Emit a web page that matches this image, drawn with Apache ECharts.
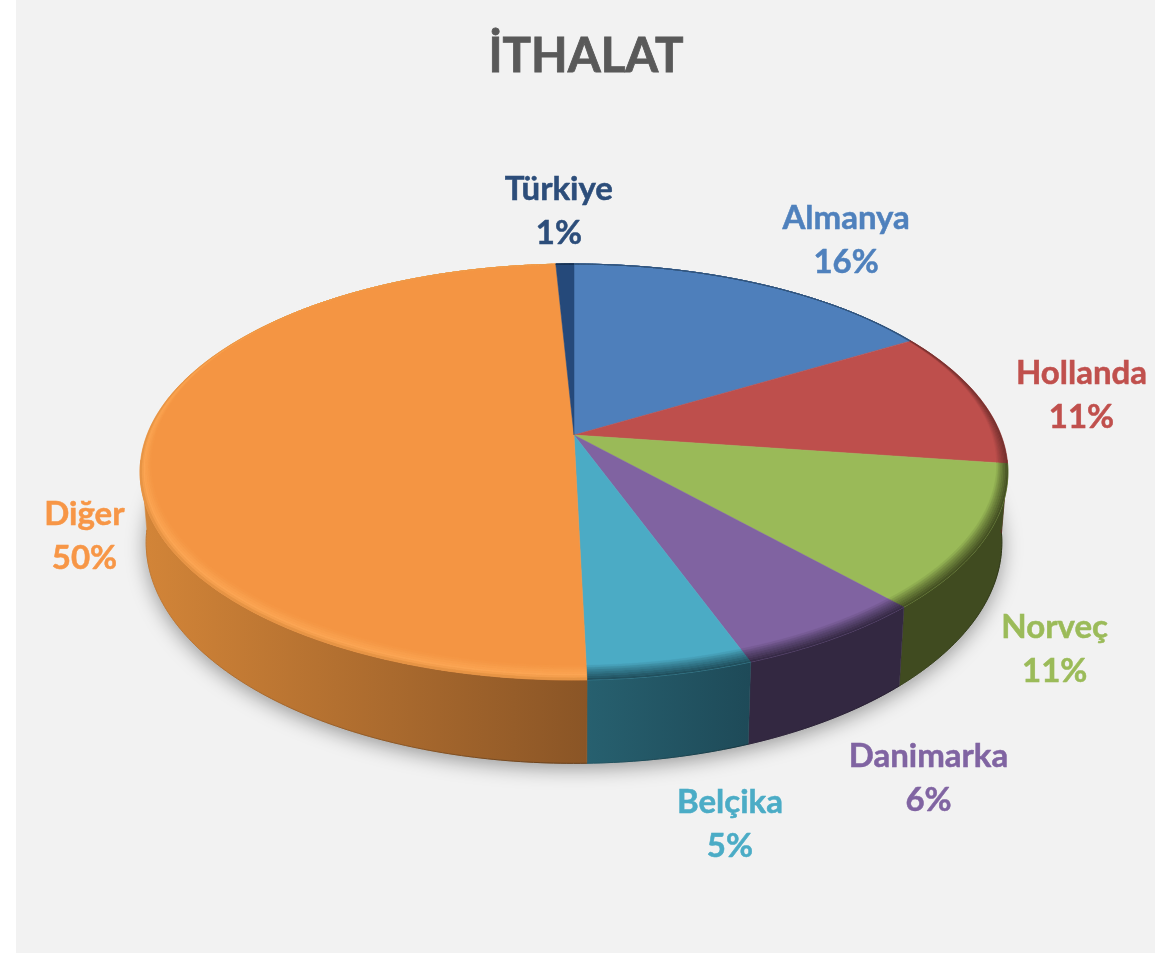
<!DOCTYPE html>
<html><head><meta charset="utf-8">
<style>html,body{margin:0;padding:0;background:#fff}#c{position:absolute;left:16px;top:0;width:1139px;height:953px}</style>
<script src="https://cdn.jsdelivr.net/npm/echarts@6/dist/echarts.min.js"></script>
</head><body><div id="c"></div>
<script>
const titleText = 'İTHALAT';
const countries = ['Almanya','Hollanda','Norveç','Danimarka','Belçika','Diğer','Türkiye'];
const shares = [16.49,10.71,11.1,6.1,5.2,49.6,0.8];
const topColors = ['#4e7fbb','#be4f4c','#9aba58','#8063a1','#4babc5','#f49543','#25497a'];
const labelColors = ['#4f81bd','#c0504d','#9bbb59','#8064a2','#4bacc6','#f79646','#2c4d7a'];
const sideLeft = ['#2d4d72','#6f2e2c','#404b20','#332841','#27606f','#d38538','#16304f'];
const sideRight = ['#2d4d72','#6f2e2c','#404b20','#332841','#1e4a58','#8a5526','#16304f'];
const labelNudges = [[89,-43],[103,-1],[69,112],[94,140],[59,150],[-60,94],[-6,-53]];

const OX = 16;
const top3d = {cx:574-OX, cy:435, a:427, b:201.4, k:0.178};
const bottom3d = {cx:574-OX, cy:503, a:421, b:214, k:0.178};
const FRONT = [97, 263];
const total = shares.reduce((s,v)=>s+v,0);
const starts = []; shares.reduce((s,v,i)=>{starts[i]=s;return s+v;},0);
const rad = d=>d*Math.PI/180;
function project(p, deg, r){
  const X=r*Math.sin(rad(deg)), Y=-r*Math.cos(rad(deg)), w=1-p.k*Y;
  return [p.cx+p.a*X/w, p.cy+p.b*Y/w];
}
function arc(p,a0,a1,rf){
  const n=Math.max(2,Math.ceil((a1-a0)/0.75)), pts=[];
  for(let i=0;i<=n;i++){const d=a0+(a1-a0)*i/n; pts.push(project(p,d,rf?rf(d):1));}
  return pts;
}
function hex(c){return [1,3,5].map(i=>parseInt(c.substr(i,2),16));}
function mix(a,b,t){const x=hex(a),y=hex(b);return 'rgb('+x.map((v,i)=>Math.round(v+(y[i]-v)*t)).join(',')+')';}
function bevelWidth(d){const Y=-Math.cos(rad(d));return 0.05*Math.max(0,Math.min(1,(Y+0.7)/1.7));}
function bevelColor(i,t){
  if(countries[i]==='Diğer'){
    return t<0.7?mix(topColors[i],'#fca654',t/0.7):mix('#fca654',sideLeft[i],(t-0.7)/0.3*0.7);
  }
  return mix(topColors[i],sideRight[i],Math.pow(t,0.8));
}
function renderItem(params,api){
  const i=params.dataIndex, kids=[];
  const a0=starts[i]/total*360, a1=(starts[i]+api.value(0))/total*360;
  if(i===0){
    kids.push({type:'polygon',z2:0,shape:{points:arc(bottom3d,0,360)},
      style:{fill:'#dcdcdc',shadowBlur:20,shadowOffsetY:5,shadowColor:'rgba(0,0,0,0.38)'}});
  }
  const sa=Math.max(a0,FRONT[0]), sb=Math.min(a1,FRONT[1]);
  if(sb>sa){
    const upper=arc(top3d,sa,sb), lower=arc(bottom3d,sa,sb);
    const fill=new echarts.graphic.LinearGradient(0,0,1,0,[{offset:0,color:sideLeft[i]},{offset:1,color:sideRight[i]}]);
    const edge=new echarts.graphic.LinearGradient(0,0,1,0,[{offset:0,color:mix(sideLeft[i],'#000000',0.08)},{offset:1,color:mix(sideRight[i],'#000000',0.3)}]);
    kids.push({type:'polygon',z2:1,shape:{points:upper.concat(lower.slice().reverse())},style:{fill:fill,stroke:fill,lineWidth:0.5}});
    kids.push({type:'polyline',z2:2,shape:{points:lower},style:{fill:'none',stroke:edge,lineWidth:1}});
  }
  const centre=[top3d.cx,top3d.cy];
  kids.push({type:'polygon',z2:3,shape:{points:[centre].concat(arc(top3d,a0,a1))},style:{fill:topColors[i],stroke:topColors[i],lineWidth:0.5}});
  const N=7;
  for(let s=0;s<N;s++){
    const r0=d=>1-bevelWidth(d)*(1-s/N), r1=d=>1-bevelWidth(d)*(1-(s+1)/N);
    const outer=arc(top3d,a0,a1,r1), inner=arc(top3d,a0,a1,r0);
    const col=bevelColor(i,(s+0.5)/N);
    kids.push({type:'polygon',z2:4,shape:{points:outer.concat(inner.reverse())},style:{fill:col,stroke:col,lineWidth:0.4}});
  }
  const mid=project(top3d,(a0+a1)/2,1);
  kids.push({type:'text',z2:6,x:mid[0]+labelNudges[i][0],y:mid[1]+labelNudges[i][1],
    style:{text:api.value(1)+'\n'+Math.round(api.value(0))+'%',x:0,y:0,align:'center',verticalAlign:'middle',
      fill:labelColors[i],font:'bold 33px Lato',lineHeight:44,stroke:labelColors[i],lineWidth:0.5}});
  return {type:'group',children:kids};
}
const chart=echarts.init(document.getElementById('c'));
chart.setOption({
  backgroundColor:'#f2f2f2',animation:false,
  title:{text:titleText,left:581-OX,top:28,textAlign:'center',textStyle:{fontFamily:'Lato',fontWeight:'bold',fontSize:47.5,color:'#595959',textBorderColor:'#595959',textBorderWidth:0.8}},
  series:[{type:'custom',coordinateSystem:'none',renderItem:renderItem,clip:false,
    data:countries.map((c,i)=>[shares[i],c])}]
});
</script></body></html>
